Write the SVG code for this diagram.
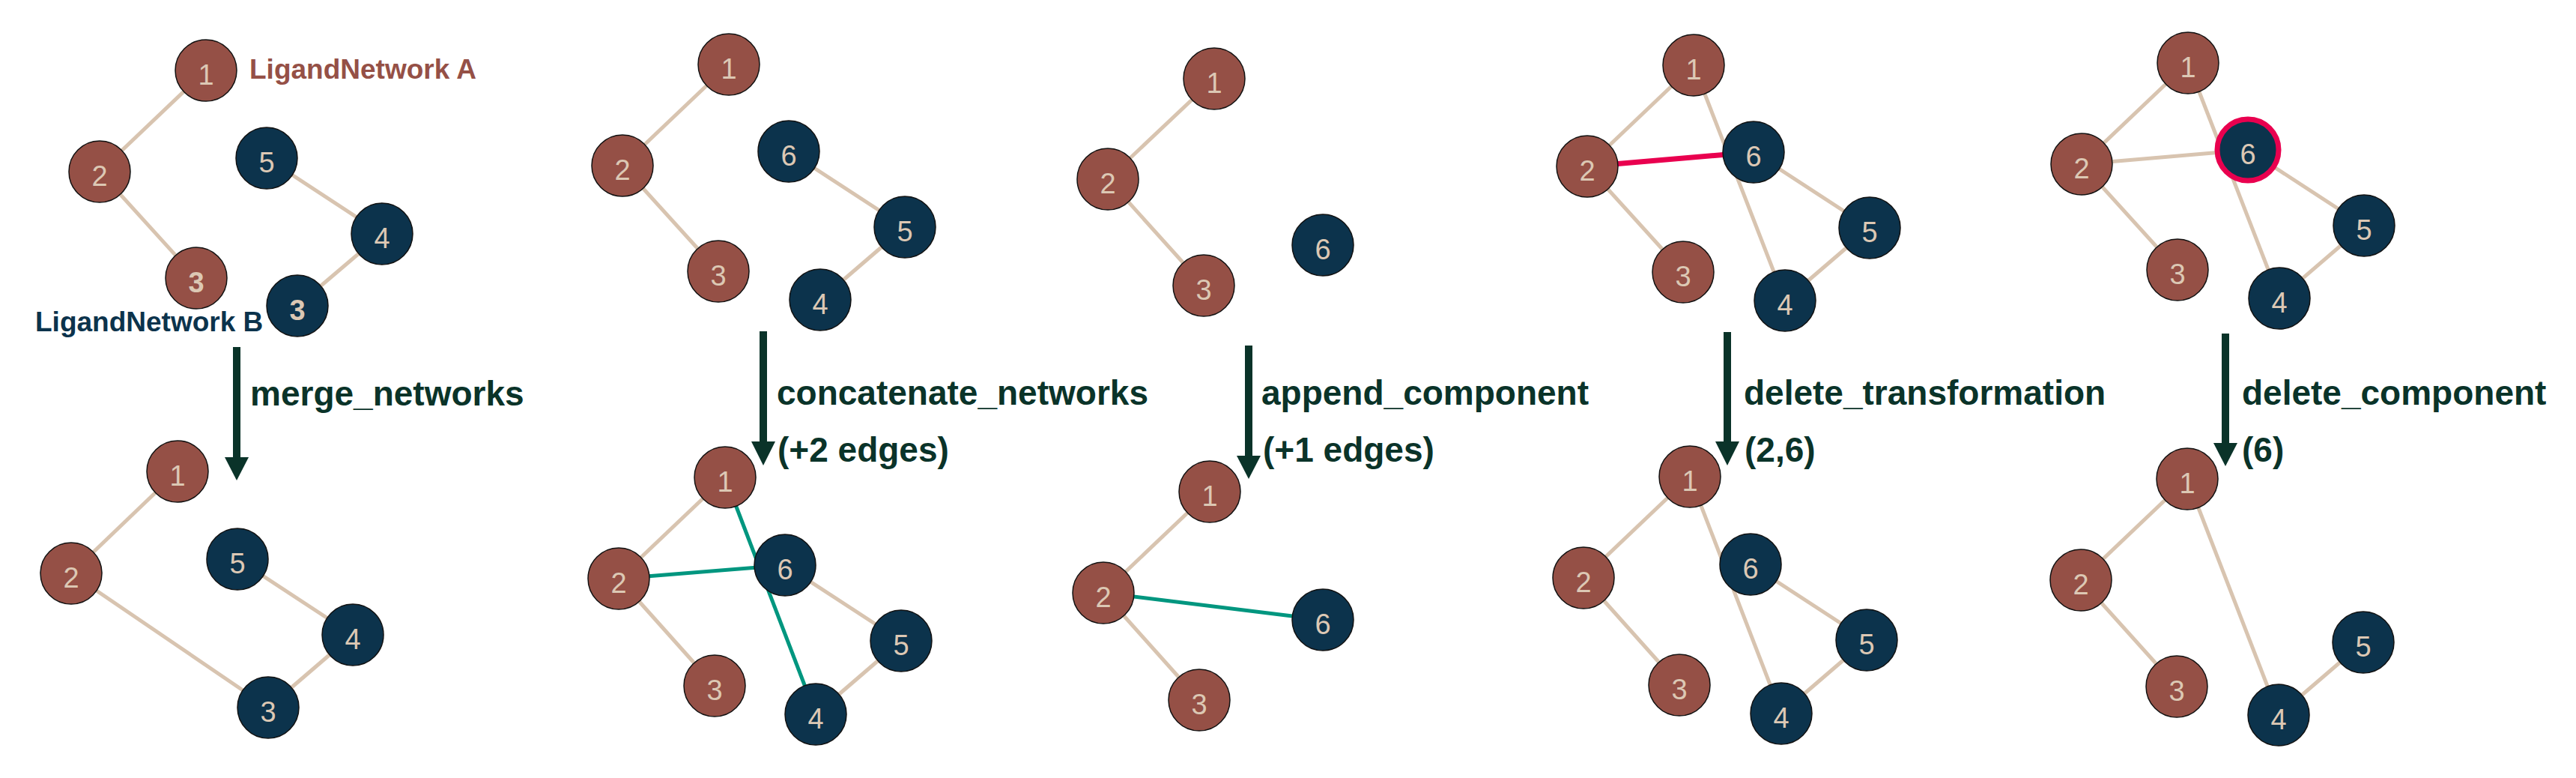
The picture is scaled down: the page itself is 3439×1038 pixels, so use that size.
<svg xmlns="http://www.w3.org/2000/svg" width="3439" height="1038" viewBox="0 0 3439 1038">
<style>
.e{stroke:#d8c4b0;stroke-width:5;fill:none}
.t{stroke:#00967f;stroke-width:5;fill:none}
.p{stroke:#e9004f;stroke-width:7;fill:none}
.b circle{fill:#955046;stroke:#111;stroke-width:1.5}
.n circle{fill:#0c334c;stroke:#111;stroke-width:1.5}
.b text,.n text{fill:#dcc8b4;font-family:"Liberation Sans",Arial,sans-serif;font-size:38px;text-anchor:middle}
.bold text{font-weight:bold}
.ring circle{stroke:#e9004f;stroke-width:7}
.shaft{stroke:#0a3329;stroke-width:10}
.head{fill:#0a3329}
.lab{fill:#0a3329;font-family:"Liberation Sans",Arial,sans-serif;font-weight:bold;font-size:46px}
.la{fill:#955046;font-family:"Liberation Sans",Arial,sans-serif;font-weight:bold;font-size:37px}
.lb{fill:#0c334c;font-family:"Liberation Sans",Arial,sans-serif;font-weight:bold;font-size:37px}
</style>
<rect width="3439" height="1038" fill="#fff"/>
<g id="connectors">
<!-- panel 1 top -->
<line class="e" x1="275" y1="94" x2="133" y2="229"/>
<line class="e" x1="133" y1="229" x2="262" y2="371"/>
<line class="e" x1="356" y1="211" x2="510" y2="312"/>
<line class="e" x1="510" y1="312" x2="397" y2="408"/>
<!-- panel 1 bottom -->
<line class="e" x1="237" y1="629" x2="95" y2="765"/>
<line class="e" x1="95" y1="765" x2="358" y2="944"/>
<line class="e" x1="317" y1="746" x2="471" y2="847"/>
<line class="e" x1="471" y1="847" x2="358" y2="944"/>
<!-- panel 2 top -->
<line class="e" x1="973" y1="86" x2="831" y2="221"/>
<line class="e" x1="831" y1="221" x2="959" y2="362"/>
<line class="e" x1="1053" y1="202" x2="1208" y2="303"/>
<line class="e" x1="1208" y1="303" x2="1095" y2="400"/>
<!-- panel 2 bottom -->
<line class="e" x1="968" y1="637" x2="826" y2="772"/>
<line class="e" x1="826" y1="772" x2="954" y2="915"/>
<line class="e" x1="1048" y1="754" x2="1203" y2="855"/>
<line class="e" x1="1203" y1="855" x2="1089" y2="953"/>
<line class="t" x1="826" y1="772" x2="1048" y2="754"/>
<line class="t" x1="968" y1="637" x2="1089" y2="953"/>
<!-- panel 3 top -->
<line class="e" x1="1621" y1="105" x2="1479" y2="239"/>
<line class="e" x1="1479" y1="239" x2="1607" y2="381"/>
<!-- panel 3 bottom -->
<line class="e" x1="1615" y1="656" x2="1473" y2="791"/>
<line class="e" x1="1473" y1="791" x2="1601" y2="934"/>
<line class="t" x1="1473" y1="791" x2="1766" y2="827"/>
<!-- panel 4 top -->
<line class="e" x1="2261" y1="87" x2="2119" y2="222"/>
<line class="e" x1="2119" y1="222" x2="2247" y2="363"/>
<line class="e" x1="2261" y1="87" x2="2383" y2="401"/>
<line class="e" x1="2341" y1="203" x2="2496" y2="304"/>
<line class="e" x1="2496" y1="304" x2="2383" y2="401"/>
<line class="p" x1="2119" y1="222" x2="2341" y2="203"/>
<!-- panel 4 bottom -->
<line class="e" x1="2256" y1="636" x2="2114" y2="771"/>
<line class="e" x1="2114" y1="771" x2="2242" y2="914"/>
<line class="e" x1="2256" y1="636" x2="2378" y2="952"/>
<line class="e" x1="2337" y1="753" x2="2492" y2="854"/>
<line class="e" x1="2492" y1="854" x2="2378" y2="952"/>
<!-- panel 5 top -->
<line class="e" x1="2921" y1="84" x2="2779" y2="219"/>
<line class="e" x1="2779" y1="219" x2="2907" y2="360"/>
<line class="e" x1="2921" y1="84" x2="3043" y2="398"/>
<line class="e" x1="2779" y1="219" x2="3001" y2="200"/>
<line class="e" x1="3001" y1="200" x2="3156" y2="301"/>
<line class="e" x1="3156" y1="301" x2="3043" y2="398"/>
<!-- panel 5 bottom -->
<line class="e" x1="2920" y1="639" x2="2778" y2="774"/>
<line class="e" x1="2778" y1="774" x2="2906" y2="916"/>
<line class="e" x1="2920" y1="639" x2="3042" y2="954"/>
<line class="e" x1="3155" y1="857" x2="3042" y2="954"/>
<!-- transformation arrows -->
<line class="shaft" x1="316" y1="463" x2="316" y2="612"/>
<polygon class="head" points="300,610 332,610 316,641"/>
<line class="shaft" x1="1019" y1="442" x2="1019" y2="591"/>
<polygon class="head" points="1003,589 1035,589 1019,621"/>
<line class="shaft" x1="1667" y1="461" x2="1667" y2="610"/>
<polygon class="head" points="1651,608 1683,608 1667,639"/>
<line class="shaft" x1="2306" y1="443" x2="2306" y2="591"/>
<polygon class="head" points="2290,589 2322,589 2306,621"/>
<line class="shaft" x1="2971" y1="445" x2="2971" y2="593"/>
<polygon class="head" points="2955,591 2987,591 2971,622"/>
</g>
<!-- panel 1 top nodes -->
<g id="p1t-n1" class="b"><circle cx="275" cy="94" r="41"/><text x="275" y="113">1</text></g>
<g id="p1t-n2" class="b"><circle cx="133" cy="229" r="41"/><text x="133" y="248">2</text></g>
<g id="p1t-n3a" class="b bold"><circle cx="262" cy="371" r="41"/><text x="262" y="390">3</text></g>
<g id="p1t-n5" class="n"><circle cx="356" cy="211" r="41"/><text x="356" y="230">5</text></g>
<g id="p1t-n4" class="n"><circle cx="510" cy="312" r="41"/><text x="510" y="331">4</text></g>
<g id="p1t-n3b" class="n bold"><circle cx="397" cy="408" r="41"/><text x="397" y="427">3</text></g>
<g id="label-a"><text class="la" x="333" y="105">LigandNetwork A</text></g>
<g id="label-b"><text class="lb" x="47" y="442">LigandNetwork B</text></g>
<g id="op1"><text class="lab" x="334" y="541">merge_networks</text></g>
<!-- panel 1 bottom nodes -->
<g id="p1b-n1" class="b"><circle cx="237" cy="629" r="41"/><text x="237" y="648">1</text></g>
<g id="p1b-n2" class="b"><circle cx="95" cy="765" r="41"/><text x="95" y="784">2</text></g>
<g id="p1b-n5" class="n"><circle cx="317" cy="746" r="41"/><text x="317" y="765">5</text></g>
<g id="p1b-n4" class="n"><circle cx="471" cy="847" r="41"/><text x="471" y="866">4</text></g>
<g id="p1b-n3" class="n"><circle cx="358" cy="944" r="41"/><text x="358" y="963">3</text></g>
<!-- panel 2 top nodes -->
<g id="p2t-n1" class="b"><circle cx="973" cy="86" r="41"/><text x="973" y="105">1</text></g>
<g id="p2t-n2" class="b"><circle cx="831" cy="221" r="41"/><text x="831" y="240">2</text></g>
<g id="p2t-n3" class="b"><circle cx="959" cy="362" r="41"/><text x="959" y="381">3</text></g>
<g id="p2t-n6" class="n"><circle cx="1053" cy="202" r="41"/><text x="1053" y="221">6</text></g>
<g id="p2t-n5" class="n"><circle cx="1208" cy="303" r="41"/><text x="1208" y="322">5</text></g>
<g id="p2t-n4" class="n"><circle cx="1095" cy="400" r="41"/><text x="1095" y="419">4</text></g>
<g id="op2"><text class="lab" x="1037" y="540">concatenate_networks</text><text class="lab" x="1038" y="616">(+2 edges)</text></g>
<!-- panel 2 bottom nodes -->
<g id="p2b-n1" class="b"><circle cx="968" cy="637" r="41"/><text x="968" y="656">1</text></g>
<g id="p2b-n2" class="b"><circle cx="826" cy="772" r="41"/><text x="826" y="791">2</text></g>
<g id="p2b-n3" class="b"><circle cx="954" cy="915" r="41"/><text x="954" y="934">3</text></g>
<g id="p2b-n6" class="n"><circle cx="1048" cy="754" r="41"/><text x="1048" y="773">6</text></g>
<g id="p2b-n5" class="n"><circle cx="1203" cy="855" r="41"/><text x="1203" y="874">5</text></g>
<g id="p2b-n4" class="n"><circle cx="1089" cy="953" r="41"/><text x="1089" y="972">4</text></g>
<!-- panel 3 top nodes -->
<g id="p3t-n1" class="b"><circle cx="1621" cy="105" r="41"/><text x="1621" y="124">1</text></g>
<g id="p3t-n2" class="b"><circle cx="1479" cy="239" r="41"/><text x="1479" y="258">2</text></g>
<g id="p3t-n3" class="b"><circle cx="1607" cy="381" r="41"/><text x="1607" y="400">3</text></g>
<g id="p3t-n6" class="n"><circle cx="1766" cy="327" r="41"/><text x="1766" y="346">6</text></g>
<g id="op3"><text class="lab" x="1684" y="540">append_component</text><text class="lab" x="1686" y="616">(+1 edges)</text></g>
<!-- panel 3 bottom nodes -->
<g id="p3b-n1" class="b"><circle cx="1615" cy="656" r="41"/><text x="1615" y="675">1</text></g>
<g id="p3b-n2" class="b"><circle cx="1473" cy="791" r="41"/><text x="1473" y="810">2</text></g>
<g id="p3b-n3" class="b"><circle cx="1601" cy="934" r="41"/><text x="1601" y="953">3</text></g>
<g id="p3b-n6" class="n"><circle cx="1766" cy="827" r="41"/><text x="1766" y="846">6</text></g>
<!-- panel 4 top nodes -->
<g id="p4t-n1" class="b"><circle cx="2261" cy="87" r="41"/><text x="2261" y="106">1</text></g>
<g id="p4t-n2" class="b"><circle cx="2119" cy="222" r="41"/><text x="2119" y="241">2</text></g>
<g id="p4t-n3" class="b"><circle cx="2247" cy="363" r="41"/><text x="2247" y="382">3</text></g>
<g id="p4t-n6" class="n"><circle cx="2341" cy="203" r="41"/><text x="2341" y="222">6</text></g>
<g id="p4t-n5" class="n"><circle cx="2496" cy="304" r="41"/><text x="2496" y="323">5</text></g>
<g id="p4t-n4" class="n"><circle cx="2383" cy="401" r="41"/><text x="2383" y="420">4</text></g>
<g id="op4"><text class="lab" x="2328" y="540">delete_transformation</text><text class="lab" x="2329" y="616">(2,6)</text></g>
<!-- panel 4 bottom nodes -->
<g id="p4b-n1" class="b"><circle cx="2256" cy="636" r="41"/><text x="2256" y="655">1</text></g>
<g id="p4b-n2" class="b"><circle cx="2114" cy="771" r="41"/><text x="2114" y="790">2</text></g>
<g id="p4b-n3" class="b"><circle cx="2242" cy="914" r="41"/><text x="2242" y="933">3</text></g>
<g id="p4b-n6" class="n"><circle cx="2337" cy="753" r="41"/><text x="2337" y="772">6</text></g>
<g id="p4b-n5" class="n"><circle cx="2492" cy="854" r="41"/><text x="2492" y="873">5</text></g>
<g id="p4b-n4" class="n"><circle cx="2378" cy="952" r="41"/><text x="2378" y="971">4</text></g>
<!-- panel 5 top nodes -->
<g id="p5t-n1" class="b"><circle cx="2921" cy="84" r="41"/><text x="2921" y="103">1</text></g>
<g id="p5t-n2" class="b"><circle cx="2779" cy="219" r="41"/><text x="2779" y="238">2</text></g>
<g id="p5t-n3" class="b"><circle cx="2907" cy="360" r="41"/><text x="2907" y="379">3</text></g>
<g id="p5t-n6" class="n ring"><circle cx="3001" cy="200" r="41"/><text x="3001" y="219">6</text></g>
<g id="p5t-n5" class="n"><circle cx="3156" cy="301" r="41"/><text x="3156" y="320">5</text></g>
<g id="p5t-n4" class="n"><circle cx="3043" cy="398" r="41"/><text x="3043" y="417">4</text></g>
<g id="op5"><text class="lab" x="2993" y="540">delete_component</text><text class="lab" x="2993" y="616">(6)</text></g>
<!-- panel 5 bottom nodes -->
<g id="p5b-n1" class="b"><circle cx="2920" cy="639" r="41"/><text x="2920" y="658">1</text></g>
<g id="p5b-n2" class="b"><circle cx="2778" cy="774" r="41"/><text x="2778" y="793">2</text></g>
<g id="p5b-n3" class="b"><circle cx="2906" cy="916" r="41"/><text x="2906" y="935">3</text></g>
<g id="p5b-n5" class="n"><circle cx="3155" cy="857" r="41"/><text x="3155" y="876">5</text></g>
<g id="p5b-n4" class="n"><circle cx="3042" cy="954" r="41"/><text x="3042" y="973">4</text></g>
</svg>
